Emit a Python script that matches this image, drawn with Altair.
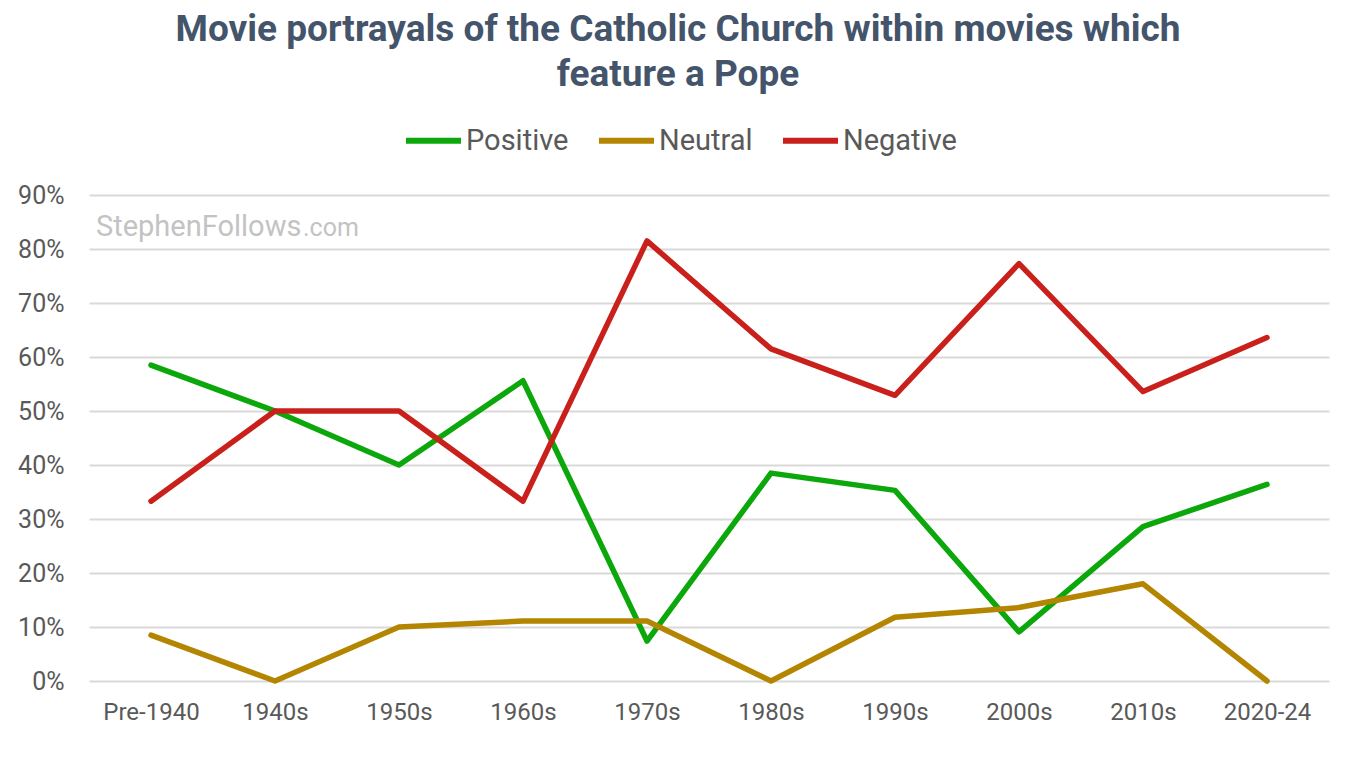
import altair as alt
import pandas as pd

decades = ["Pre-1940", "1940s", "1950s", "1960s", "1970s", "1980s", "1990s", "2000s", "2010s", "2020-24"]
positive = [0.585, 0.50, 0.40, 0.556, 0.074, 0.385, 0.353, 0.091, 0.286, 0.364]
neutral = [0.085, 0.0, 0.10, 0.111, 0.111, 0.0, 0.118, 0.136, 0.18, 0.0]
negative = [0.333, 0.50, 0.50, 0.333, 0.815, 0.615, 0.529, 0.773, 0.536, 0.636]
series = ["Positive", "Neutral", "Negative"]
colors = ["#0ba70b", "#b38500", "#c9201c"]

rows = []
for name, vals in zip(series, [positive, neutral, negative]):
    for d, v in zip(decades, vals):
        rows.append({"decade": d, "value": v, "series": name})
df = pd.DataFrame(rows)

font = "Roboto"
grey = "#595959"

lines = alt.Chart(df).mark_line(strokeWidth=5.5, strokeCap="round", strokeJoin="round").encode(
    x=alt.X("decade:N", sort=decades, title=None,
            scale=alt.Scale(paddingInner=0, paddingOuter=0.5),
            axis=alt.Axis(labelAngle=0, labelFont=font, labelFontSize=24, labelColor=grey,
                          labelPadding=19, ticks=False, domain=False, grid=False)),
    y=alt.Y("value:Q", title=None,
            scale=alt.Scale(domain=[0, 0.9]),
            axis=alt.Axis(format=".0%", values=[i / 10 for i in range(10)],
                          labelFont=font, labelFontSize=25, labelColor=grey,
                          labelPadding=25, ticks=False, domain=False,
                          gridColor="#d9d9d9", gridWidth=2)),
    color=alt.Color("series:N", sort=series,
                    scale=alt.Scale(domain=series, range=colors),
                    legend=alt.Legend(title=None, orient="none", direction="horizontal",
                                      legendX=314, legendY=-85,
                                      symbolType="stroke", symbolSize=3025, symbolStrokeWidth=6,
                                      labelFont=font, labelFontSize=29, labelColor=grey,
                                      labelOffset=2, columnPadding=18)),
)

wm1 = alt.Chart(pd.DataFrame({"t": ["StephenFollows"]})).mark_text(
    align="left", baseline="alphabetic", font=font, fontSize=29, color="#c3c3c3"
).encode(text="t:N", x=alt.value(7), y=alt.value(41))
wm2 = alt.Chart(pd.DataFrame({"t": [".com"]})).mark_text(
    align="left", baseline="alphabetic", font=font, fontSize=25, color="#c3c3c3"
).encode(text="t:N", x=alt.value(214), y=alt.value(41))

chart = alt.layer(lines, wm1, wm2).properties(
    width=1240, height=486,
    padding={"left": 81, "top": 187, "right": 25, "bottom": 60},
    autosize=alt.AutoSizeParams(type="none"),
    title=alt.TitleParams(
        text=["Movie portrayals of the Catholic Church within movies which", "feature a Pope"],
        font=font, fontSize=37, fontWeight="bold", color="#44546a",
        anchor="middle", frame="group", dx=-31, offset=16, lineHeight=45,
    ),
).configure_view(stroke=None)

chart.save("out.html", embed_options={"renderer": "svg", "actions": False})
